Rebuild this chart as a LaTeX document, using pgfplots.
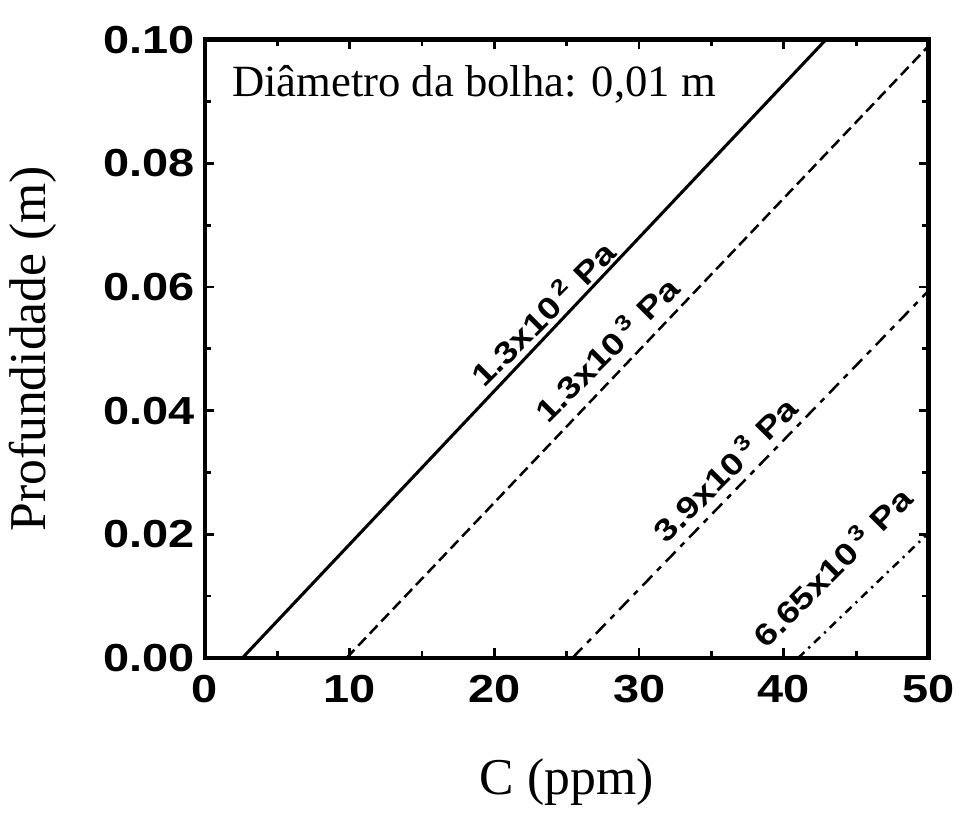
\documentclass[border=0pt]{standalone}
\usepackage{pgfplots}
\pgfplotsset{compat=1.18}
\usepackage{fontspec}
\setmainfont{Liberation Serif}
\setsansfont{Liberation Sans}
\newfontfamily\ticksf{Liberation Sans}[FakeStretch=1.2]
\begin{document}
\begin{tikzpicture}
\begin{axis}[
    scale only axis,
    width=9.11cm, height=7.78cm,
    xmin=0, xmax=50, ymin=0, ymax=0.1,
    xtick={0,10,...,50},
    ytick={0,0.02,...,0.1},
    minor xtick={5,15,...,45},
    minor ytick={0.01,0.03,...,0.09},
    tick align=inside,
    major tick length=0.12cm,
    minor tick length=0.08cm,
    tick style={line width=1pt,black},
    axis line style={line width=1.6pt},
    /pgf/number format/assume math mode=true,
    yticklabel style={/pgf/number format/.cd,fixed,fixed zerofill,precision=2},
    tick label style={font=\ticksf\bfseries\fontsize{14}{14}\selectfont},
    xticklabel style={yshift=-0.1cm},
    label style={font=\fontsize{18.5}{18.5}\selectfont},
    xlabel={C (ppm)},
    ylabel={Profundidade (m)},
    xlabel style={yshift=-0.45cm},
    ylabel style={yshift=0.35cm},
]
\addplot[black, line width=1.1pt] coordinates {(2.6,0) (42.9,0.1)};
\addplot[black, line width=0.9pt, dash pattern=on 4pt off 2pt] coordinates {(9.8,0) (50,0.099)};
\addplot[black, line width=0.9pt, dash pattern=on 5pt off 2.5pt on 2pt off 2.5pt] coordinates {(25.4,0) (50,0.0594)};
\addplot[black, line width=0.9pt, dash pattern=on 3pt off 2pt on 0.8pt off 2pt] coordinates {(41.0,0) (50,0.0202)};
\node[anchor=west, font=\fontsize{16}{16}\selectfont] at (axis cs:1.2,0.0927) {Diâmetro da bolha: 0,01 m};
\begin{scope}[every node/.style={font=\ticksf\bfseries\fontsize{11}{11}\selectfont, rotate=45}]
\node at (axis cs:23.3,0.0558) {1.3x10\,\textsuperscript{2}\ Pa};
\node at (axis cs:27.7,0.0500) {1.3x10\,\textsuperscript{3}\ Pa};
\node at (axis cs:35.9,0.0306) {3.9x10\,\textsuperscript{3}\ Pa};
\node at (axis cs:43.3,0.0148) {6.65x10\,\textsuperscript{3}\ Pa};
\end{scope}
\coordinate (tl) at (rel axis cs:0,1);
\end{axis}
\path (tl) ++(0,0.5cm);
\end{tikzpicture}
\end{document}
